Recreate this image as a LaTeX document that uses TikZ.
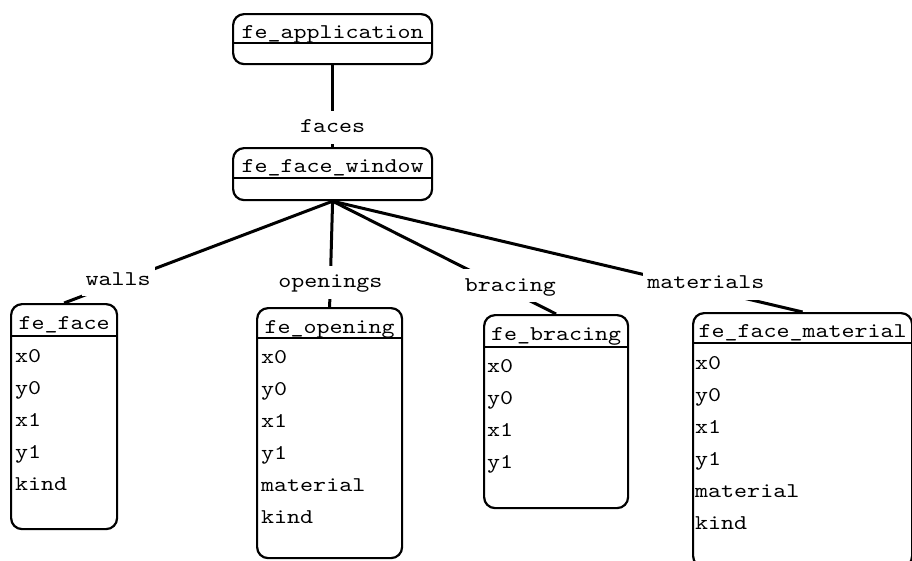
\documentclass[tikz,border=0pt]{standalone}
\usepackage{fontspec}
\newfontfamily\umlfont[FakeStretch=1.18]{lmmono10-regular.otf}
\newcommand\umltext{\umlfont\fontsize{21}{25}\selectfont}
\begin{document}
\begin{tikzpicture}[x=1pt,y=-1pt,
  classbox/.style={draw, line width=2.2pt, rounded corners=11pt, inner sep=0pt, anchor=north west},
  rule/.style={line width=2.2pt},
  head/.style={font=\umltext, inner sep=0pt, anchor=base},
  attr/.style={font=\umltext, inner sep=0pt, anchor=base west},
  link/.style={line width=3pt},
  role/.style={font=\umltext, fill=white, inner xsep=4pt, inner ysep=3pt, text height=19pt, text depth=8pt}]
\useasboundingbox (0,0) rectangle (912,560);
\clip (0,0) rectangle (912,560);

% class boxes
\node[classbox, minimum width=199pt, minimum height=50pt] (app) at (232,13) {};
\node[classbox, minimum width=199pt, minimum height=52pt] (win) at (232,147) {};
\node[classbox, minimum width=106pt, minimum height=225pt] (face) at (10,303) {};
\node[classbox, minimum width=145pt, minimum height=250pt] (open) at (256,307) {};
\node[classbox, minimum width=144pt, minimum height=193pt] (brac) at (483,314) {};
\node[classbox, minimum width=219pt, minimum height=254pt] (mat) at (692,312) {};

% header rules
\draw[rule] ([yshift=-30pt]app.north west) -- ([yshift=-30pt]app.north east);
\draw[rule] ([yshift=-31pt]win.north west) -- ([yshift=-31pt]win.north east);
\draw[rule] ([yshift=-33pt]face.north west) -- ([yshift=-33pt]face.north east);
\draw[rule] ([yshift=-31pt]open.north west) -- ([yshift=-31pt]open.north east);
\draw[rule] ([yshift=-33pt]brac.north west) -- ([yshift=-33pt]brac.north east);
\draw[rule] ([yshift=-31pt]mat.north west) -- ([yshift=-31pt]mat.north east);

% class names
\node[head] (app-name) at ([yshift=-25pt]app.north) {fe\_application};
\node[head] (win-name) at ([yshift=-25pt]win.north) {fe\_face\_window};
\node[head] (face-name) at ([yshift=-26pt]face.north) {fe\_face};
\node[head] (open-name) at ([yshift=-26pt]open.north) {fe\_opening};
\node[head] (brac-name) at ([yshift=-26pt]brac.north) {fe\_bracing};
\node[head] (mat-name) at ([yshift=-25pt]mat.north) {fe\_face\_material};

% attributes
\foreach \a [count=\i] in {x0,y0,x1,y1,kind}
  \node[attr] (face-\i) at ([xshift=5pt, yshift={-(59+32*(\i-1))*1pt}]face.north west) {\a};
\foreach \a [count=\i] in {x0,y0,x1,y1,material,kind}
  \node[attr] (open-\i) at ([xshift=5pt, yshift={-(56+32*(\i-1))*1pt}]open.north west) {\a};
\foreach \a [count=\i] in {x0,y0,x1,y1}
  \node[attr] (brac-\i) at ([xshift=4pt, yshift={-(58+32*(\i-1))*1pt}]brac.north west) {\a};
\foreach \a [count=\i] in {x0,y0,x1,y1,material,kind}
  \node[attr] (mat-\i) at ([xshift=3pt, yshift={-(57+32*(\i-1))*1pt}]mat.north west) {\a};

% associations with role names
\draw[link] (app.south) -- node[role, pos=0.756] (r-faces) {faces} (win.north);
\draw[link] (win.south) -- node[role, pos=0.799, yshift=2.6pt] (r-walls) {walls} (face.north);
\draw[link] (win.south) -- node[role, pos=0.764] (r-openings) {openings} (open.north);
\draw[link] (win.south) -- node[role, pos=0.795, yshift=4.9pt] (r-bracing) {bracing} (brac.north);
\draw[link] (win.south) -- node[role, pos=0.794, yshift=6pt] (r-materials) {materials} (mat.north);
\end{tikzpicture}
\end{document}
